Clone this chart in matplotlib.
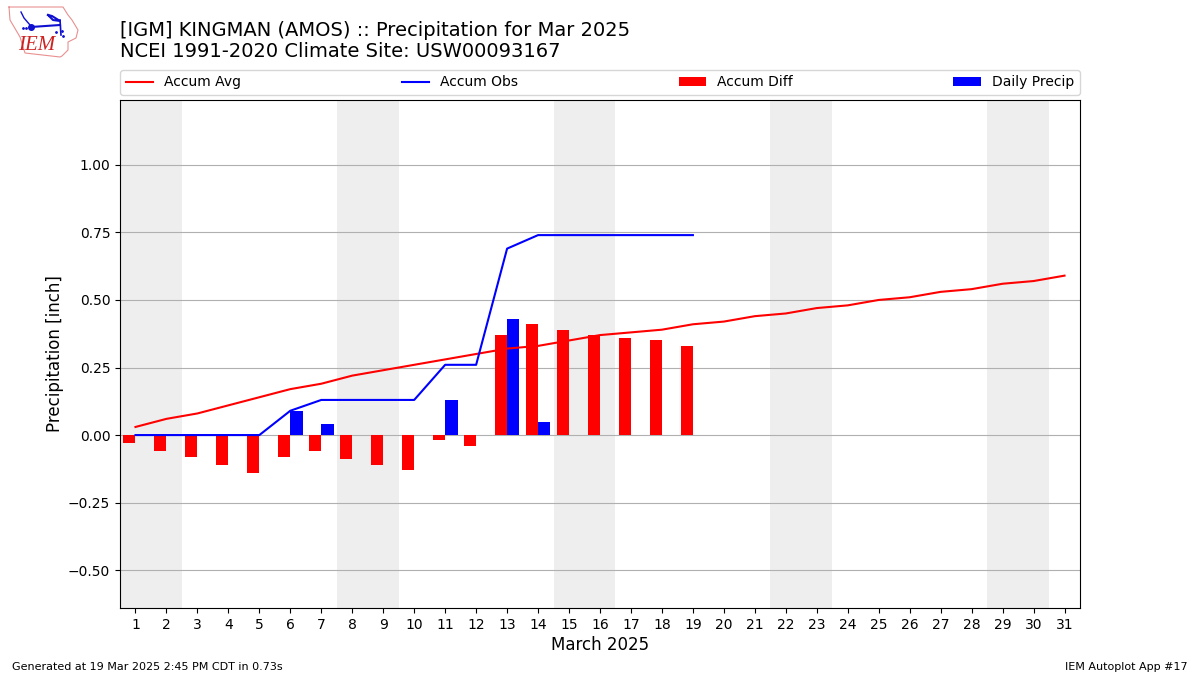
import numpy as np
import matplotlib
matplotlib.use("Agg")
import matplotlib.pyplot as plt

## DATA
days = np.arange(1, 32)
days_obs = np.arange(1, 20)
accum_avg = [0.03, 0.06, 0.08, 0.11, 0.14, 0.17, 0.19, 0.22, 0.24, 0.26, 0.28,
             0.30, 0.32, 0.33, 0.35, 0.37, 0.38, 0.39, 0.41, 0.42, 0.44, 0.45,
             0.47, 0.48, 0.50, 0.51, 0.53, 0.54, 0.56, 0.57, 0.59]
accum_obs = [0, 0, 0, 0, 0, 0.09, 0.13, 0.13, 0.13, 0.13, 0.26, 0.26, 0.69,
             0.74, 0.74, 0.74, 0.74, 0.74, 0.74]
accum_diff = [-0.03, -0.06, -0.08, -0.11, -0.14, -0.08, -0.06, -0.09, -0.11,
              -0.13, -0.02, -0.04, 0.37, 0.41, 0.39, 0.37, 0.36, 0.35, 0.33]
daily_precip = [0, 0, 0, 0, 0, 0.09, 0.04, 0, 0, 0, 0.13, 0, 0.43, 0.05, 0, 0,
                0, 0, 0]
weekends = [(0.5, 2.5), (7.5, 9.5), (14.5, 16.5), (21.5, 23.5), (28.5, 30.5)]
yticks = [-0.50, -0.25, 0.00, 0.25, 0.50, 0.75, 1.00]

W, H = 1200, 675
fig = plt.figure(figsize=(12, 6.75), dpi=100)
ax = fig.add_axes([120 / W, 1 - 608 / H, 960 / W, 508 / H])

## MAIN PLOT
for start, stop in weekends:
    ax.axvspan(start, stop, color="#eeeeee", lw=0, zorder=0)
ax.plot(days, accum_avg, color="r", label="Accum Avg", zorder=3)
ax.plot(days_obs, accum_obs, color="b", label="Accum Obs", zorder=3)
ax.bar(days_obs - 0.2, accum_diff, width=0.4, color="r", label="Accum Diff", zorder=2)
ax.bar(days_obs + 0.2, daily_precip, width=0.4, color="b", label="Daily Precip", zorder=2)

ax.set_xlim(0.5, 31.5)
ax.set_ylim(-0.64, 1.24)
ax.set_xticks(days)
ax.set_yticks(yticks)
ax.set_yticklabels(["\u22120.50", "\u22120.25", "0.00", "0.25", "0.50", "0.75", "1.00"])
ax.grid(True, axis="y", zorder=1)
ax.set_axisbelow(True)
ax.set_xlabel("March 2025", fontsize=12, labelpad=3)
ax.set_ylabel("Precipitation [inch]", fontsize=12, labelpad=3)
ax.legend(bbox_to_anchor=(0, 1.01, 1, 0.05), loc="lower left", ncol=4,
          mode="expand", borderaxespad=0, fontsize=10)

## TITLE AND FOOTER
fig.text(120 / W, 1 - 30 / H, "[IGM] KINGMAN (AMOS) :: Precipitation for Mar 2025",
         fontsize=14, va="center")
fig.text(120 / W, 1 - 51.5 / H, "NCEI 1991-2020 Climate Site: USW00093167",
         fontsize=14, va="center")
fig.text(12 / W, 1 - 666.5 / H, "Generated at 19 Mar 2025 2:45 PM CDT in 0.73s",
         fontsize=8, va="center")
fig.text(1188 / W, 1 - 666.5 / H, "IEM Autoplot App #17", fontsize=8, va="center", ha="right")

## LOGO
# sketched in screen pixels
logo = fig.add_axes([0, 1 - 70 / H, 130 / W, 70 / H])
logo.set_xlim(0, 130)
logo.set_ylim(70, 0)
logo.axis("off")
iowa_x = [9, 63, 68, 72, 78, 76, 68, 68, 62, 60, 25, 20, 10, 9]
iowa_y = [7, 7, 15, 20, 30, 38, 42, 50, 56, 57, 53, 37, 20, 7]
logo.plot(iowa_x, iowa_y, color="#e89090", lw=0.8)
logo.plot([31, 60], [27, 25], color="#1010d0", lw=1.5)
logo.plot([60, 61], [20, 35], color="#1010d0", lw=1.2)
logo.plot([48, 52, 60, 53, 48], [15, 16, 21, 20, 15], color="#1010d0", lw=1.5)
logo.plot([31], [27], "o", color="#1010d0", ms=4)
logo.plot([21, 24, 30], [12, 18, 25], color="#1010d0", lw=1)
logo.plot([23, 26], [28, 28], ".", color="#1010d0", ms=2)
logo.plot([56, 62, 63], [32, 31, 36], ".", color="#1010d0", ms=2)
logo.text(37, 45, "IEM", color="#cc2222", fontsize=15, family="Liberation Serif",
          style="italic", ha="center", va="center")

fig.savefig("out.png", dpi=100)
